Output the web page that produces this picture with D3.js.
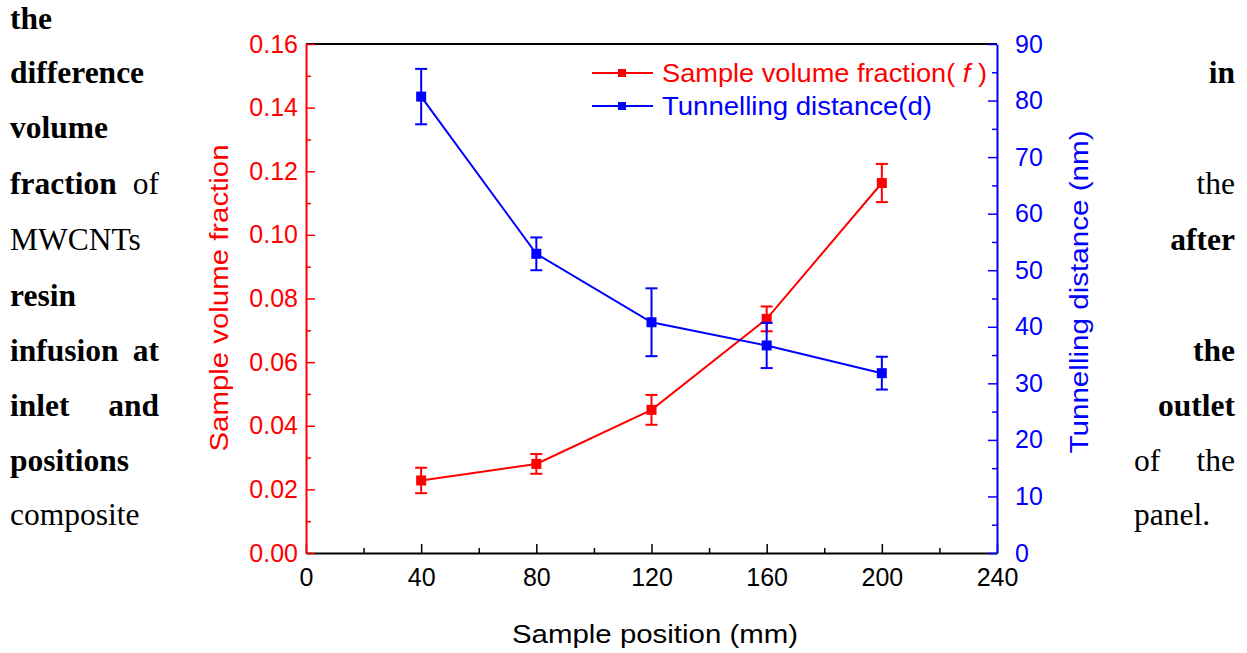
<!DOCTYPE html>
<html>
<head>
<meta charset="utf-8">
<script src="https://cdn.jsdelivr.net/npm/d3@7"></script>
<style>
  body { margin: 0; background: #fff; }
  svg { display: block; }
  .sans { font-family: "Liberation Sans", Arial, sans-serif; }
  .serif { font-family: "Liberation Serif", "Times New Roman", serif; font-size: 31.5px; fill: #000; }
</style>
</head>
<body>
<div id="chart"></div>
<script>

// chart data
var positions      = [40, 80, 120, 160, 200];
var volFraction    = [0.0228, 0.0280, 0.0450, 0.0736, 0.1163];
var volFractionErr = [0.0040, 0.0031, 0.0047, 0.0039, 0.0060];
var tunnelDist     = [80.7, 52.9, 40.8, 36.7, 31.8];
var tunnelDistErr  = [4.9, 2.9, 6.0, 4.0, 2.9];

var xTicks  = [0, 40, 80, 120, 160, 200, 240];
var yLTicks = [0, 0.02, 0.04, 0.06, 0.08, 0.10, 0.12, 0.14, 0.16];
var yRTicks = [0, 10, 20, 30, 40, 50, 60, 70, 80, 90];

// surrounding page text (word, bold)
var leftLines = [
  [["the", 1]],
  [["difference", 1]],
  [["volume", 1]],
  [["fraction", 1], ["of", 0]],
  [["MWCNTs", 0]],
  [["resin", 1]],
  [["infusion", 1], ["at", 1]],
  [["inlet", 1], ["and", 1]],
  [["positions", 1]],
  [["composite", 0]]
];
var rightLines = [
  [],
  [["in", 1]],
  [],
  [["the", 0]],
  [["after", 1]],
  [],
  [["the", 1]],
  [["outlet", 1]],
  [["of", 0], ["the", 0]],
  [["panel.", 0]]
];
var lineBaselines = [29, 83, 138, 194, 250, 306, 361, 416, 471, 525];

var width = 1247, height = 653;
var plotLeft = 306, plotRight = 997, plotTop = 44, plotBottom = 553;
var red = "#ff0000", blue = "#0000ff";

var svg = d3.select("#chart").append("svg")
    .attr("width", width)
    .attr("height", height);

// ---- page text ----
var leftX = 10, leftEnd = 159, rightStart = 1134, rightEnd = 1235;

leftLines.forEach(function(words, i) {
  var y = lineBaselines[i];
  words.forEach(function(w, j) {
    var t = svg.append("text").attr("class", "serif")
        .attr("y", y)
        .style("font-weight", w[1] ? "bold" : "normal")
        .text(w[0]);
    if (j === 0) t.attr("x", leftX);
    else t.attr("x", leftEnd).attr("text-anchor", "end");
  });
});

rightLines.forEach(function(words, i) {
  var y = lineBaselines[i];
  words.forEach(function(w, j) {
    var t = svg.append("text").attr("class", "serif")
        .attr("y", y)
        .style("font-weight", w[1] ? "bold" : "normal")
        .text(w[0]);
    if (words.length === 2 && j === 0) t.attr("x", rightStart);
    else if (w[0] === "panel.") t.attr("x", rightStart);
    else t.attr("x", rightEnd).attr("text-anchor", "end");
  });
});

// ---- scales ----
var x = d3.scaleLinear().domain([0, 240]).range([plotLeft, plotRight]);
var yL = d3.scaleLinear().domain([0, 0.16]).range([plotBottom, plotTop]);
var yR = d3.scaleLinear().domain([0, 90]).range([plotBottom, plotTop]);

var majorLen = 9, minorLen = 5;

function styleAxis(g, color) {
  g.selectAll("path.domain").attr("stroke", color).attr("stroke-width", 2);
  g.selectAll(".tick line").attr("stroke", color).attr("stroke-width", 1.5);
  g.selectAll(".tick text").attr("fill", color)
    .attr("class", "sans").style("font-size", "25px");
}

// minor ticks first
svg.append("g")
    .attr("transform", "translate(0," + plotBottom + ")")
    .call(d3.axisBottom(x).tickValues(d3.range(20, 240, 40)).tickSize(-minorLen).tickFormat(""))
    .call(function(g) { g.select(".domain").remove(); })
    .call(function(g) { g.selectAll(".tick line").attr("stroke", "#000").attr("stroke-width", 1.5); });

svg.append("g")
    .attr("transform", "translate(" + plotLeft + ",0)")
    .call(d3.axisLeft(yL).tickValues(d3.range(0.01, 0.16, 0.02)).tickSize(-minorLen).tickFormat(""))
    .call(function(g) { g.select(".domain").remove(); })
    .call(function(g) { g.selectAll(".tick line").attr("stroke", red).attr("stroke-width", 1.5); });

svg.append("g")
    .attr("transform", "translate(" + plotRight + ",0)")
    .call(d3.axisRight(yR).tickValues(d3.range(5, 90, 10)).tickSize(-minorLen).tickFormat(""))
    .call(function(g) { g.select(".domain").remove(); })
    .call(function(g) { g.selectAll(".tick line").attr("stroke", blue).attr("stroke-width", 1.5); });

// top frame line
svg.append("line")
    .attr("x1", plotLeft).attr("x2", plotRight)
    .attr("y1", plotTop).attr("y2", plotTop)
    .attr("stroke", "#000").attr("stroke-width", 2);

// major axes
var xAxisG = svg.append("g")
    .attr("transform", "translate(0," + plotBottom + ")")
    .call(d3.axisBottom(x).tickValues(xTicks).tickSizeInner(-majorLen).tickSizeOuter(0).tickPadding(15)
      .tickFormat(d3.format("d")));
styleAxis(xAxisG, "#000");

var yLAxisG = svg.append("g")
    .attr("transform", "translate(" + plotLeft + ",0)")
    .call(d3.axisLeft(yL).tickValues(yLTicks).tickSizeInner(-majorLen).tickSizeOuter(0).tickPadding(8)
      .tickFormat(d3.format(".2f")));
styleAxis(yLAxisG, red);

var yRAxisG = svg.append("g")
    .attr("transform", "translate(" + plotRight + ",0)")
    .call(d3.axisRight(yR).tickValues(yRTicks).tickSizeInner(-majorLen).tickSizeOuter(0).tickPadding(18)
      .tickFormat(d3.format("d")));
styleAxis(yRAxisG, blue);

// axis titles
svg.append("text").attr("class", "sans")
    .attr("x", 655).attr("y", 643)
    .attr("text-anchor", "middle")
    .attr("textLength", 286).attr("lengthAdjust", "spacingAndGlyphs")
    .style("font-size", "26px").attr("fill", "#000")
    .text("Sample position (mm)");

svg.append("text").attr("class", "sans")
    .attr("transform", "translate(228,298) rotate(-90)")
    .attr("text-anchor", "middle")
    .attr("textLength", 307).attr("lengthAdjust", "spacingAndGlyphs")
    .style("font-size", "26px").attr("fill", red)
    .text("Sample volume fraction");

svg.append("text").attr("class", "sans")
    .attr("transform", "translate(1088,292) rotate(-90)")
    .attr("text-anchor", "middle")
    .attr("textLength", 323).attr("lengthAdjust", "spacingAndGlyphs")
    .style("font-size", "26px").attr("fill", blue)
    .text("Tunnelling distance (nm)");

// ---- series ----
function drawSeries(vals, errs, yScale, color) {
  var pts = positions.map(function(p, i) { return { x: p, y: vals[i], e: errs[i] }; });
  var line = d3.line()
      .x(function(d) { return x(d.x); })
      .y(function(d) { return yScale(d.y); });

  var g = svg.append("g");
  g.append("path")
      .datum(pts)
      .attr("fill", "none")
      .attr("stroke", color)
      .attr("stroke-width", 2)
      .attr("d", line);

  var cap = 6;
  var eb = g.selectAll("g.err").data(pts).enter().append("g").attr("class", "err");
  eb.append("line")
      .attr("x1", function(d) { return x(d.x); }).attr("x2", function(d) { return x(d.x); })
      .attr("y1", function(d) { return yScale(d.y + d.e); })
      .attr("y2", function(d) { return yScale(d.y - d.e); })
      .attr("stroke", color).attr("stroke-width", 2);
  [1, -1].forEach(function(s) {
    eb.append("line")
        .attr("x1", function(d) { return x(d.x) - cap; }).attr("x2", function(d) { return x(d.x) + cap; })
        .attr("y1", function(d) { return yScale(d.y + s * d.e); })
        .attr("y2", function(d) { return yScale(d.y + s * d.e); })
        .attr("stroke", color).attr("stroke-width", 2);
  });

  var size = 10;
  g.selectAll("rect.mark").data(pts).enter().append("rect")
      .attr("class", "mark")
      .attr("x", function(d) { return x(d.x) - size / 2; })
      .attr("y", function(d) { return yScale(d.y) - size / 2; })
      .attr("width", size).attr("height", size)
      .attr("fill", color);
}

drawSeries(volFraction, volFractionErr, yL, red);
drawSeries(tunnelDist, tunnelDistErr, yR, blue);

// ---- legend ----
var legendItems = [
  { color: red, y: 73 },
  { color: blue, y: 106 }
];
var legend = svg.append("g").selectAll("g")
    .data(legendItems).enter().append("g")
    .attr("transform", function(d) { return "translate(592," + d.y + ")"; });

legend.append("line")
    .attr("x1", 0).attr("x2", 61).attr("y1", 0).attr("y2", 0)
    .attr("stroke", function(d) { return d.color; }).attr("stroke-width", 2);
legend.append("rect")
    .attr("x", 26).attr("y", -4).attr("width", 8).attr("height", 8)
    .attr("fill", function(d) { return d.color; });

var lt1 = svg.append("text").attr("class", "sans")
    .attr("x", 662).attr("y", 82)
    .attr("textLength", 325).attr("lengthAdjust", "spacingAndGlyphs")
    .style("font-size", "26px").attr("fill", red);
lt1.append("tspan").text("Sample volume fraction( ");
lt1.append("tspan").style("font-style", "italic").text("f");
lt1.append("tspan").text(" )");

svg.append("text").attr("class", "sans")
    .attr("x", 662).attr("y", 115)
    .attr("textLength", 270).attr("lengthAdjust", "spacingAndGlyphs")
    .style("font-size", "26px").attr("fill", blue)
    .text("Tunnelling distance(d)");

</script>
</body>
</html>
